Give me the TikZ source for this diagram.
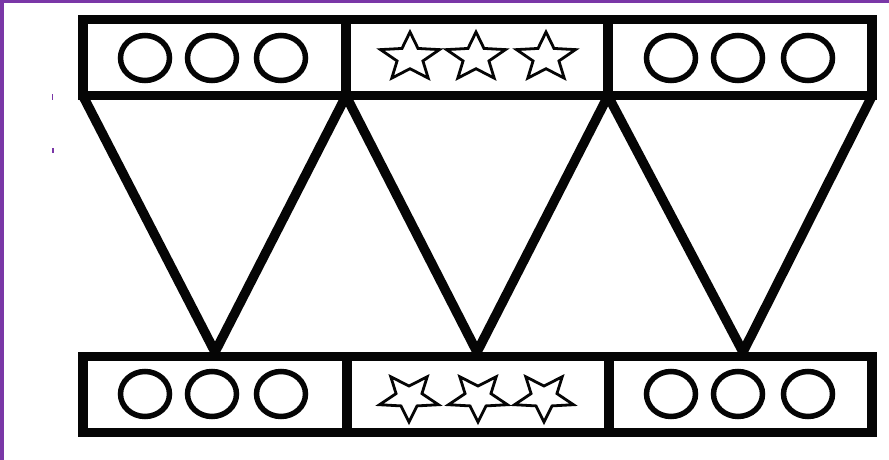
\documentclass[tikz,border=0pt]{standalone}
\usetikzlibrary{calc}
\definecolor{ink}{HTML}{050505}
\definecolor{plum}{HTML}{7A37A7}

\begin{document}
\begin{tikzpicture}[x=1pt,y=-1pt,
    frame/.style={ink,line width=9.5pt},
    bead/.style={ink,line width=5.5pt},
    starline/.style={ink,line width=2.8pt,line join=miter}]
  \useasboundingbox (0,0) rectangle (889,460);
  \fill[white] (0,0) rectangle (889,460);
  % purple edge and stray marks
  \fill[plum] (0,0) rectangle (889,3.5);
  \fill[plum] (0,0) rectangle (4,460);
  \draw[plum,line width=1.6pt] (52.5,94) -- (52.5,100);
  \draw[plum,line width=1.2pt] (53,148) -- (53,153);

  % the two strips
  \coordinate (topNW) at (83,19.5);
  \coordinate (topSE) at (872,95.5);
  \coordinate (botNW) at (83,356.5);
  \coordinate (botSE) at (872,432.5);

  % triangles hanging from the top strip
  \foreach \l/\a/\r in {83/215/346,346/477/608,608/743/872}
    \draw[frame,line join=round] (\l,96) -- (\a,352) -- (\r,96);

  \draw[frame] (topNW) rectangle (topSE);
  \draw[frame] (botNW) rectangle (botSE);
  \foreach \d in {346,608}{
    \draw[frame] (\d,19.5) -- (\d,95.5);
    \draw[frame] (\d+1,356.5) -- (\d+1,432.5);
  }

  % circles
  \foreach \cx in {145,212,281,671,738,808}{
    \draw[bead] (\cx,58) ellipse[x radius=24.5,y radius=22.5];
    \draw[bead] (\cx,394) ellipse[x radius=24.5,y radius=22.5];
  }

  % stars, up on top, down below
  \foreach \cx/\cy/\ry/\iy in {410/57.5/25.5/11.2,476/57.5/25.5/11.2,
                               546/57.5/25.5/11.2,409/397/-25/-11,
                               478/397/-25/-11,544/397/-25/-11}
    \draw[starline] (\cx,\cy)
      +(90:31pt and \ry pt) -- +(126:13.6pt and \iy pt)
      -- +(162:31pt and \ry pt) -- +(198:13.6pt and \iy pt)
      -- +(234:31pt and \ry pt) -- +(270:13.6pt and \iy pt)
      -- +(306:31pt and \ry pt) -- +(342:13.6pt and \iy pt)
      -- +(18:31pt and \ry pt) -- +(54:13.6pt and \iy pt) -- cycle;
\end{tikzpicture}
\end{document}
